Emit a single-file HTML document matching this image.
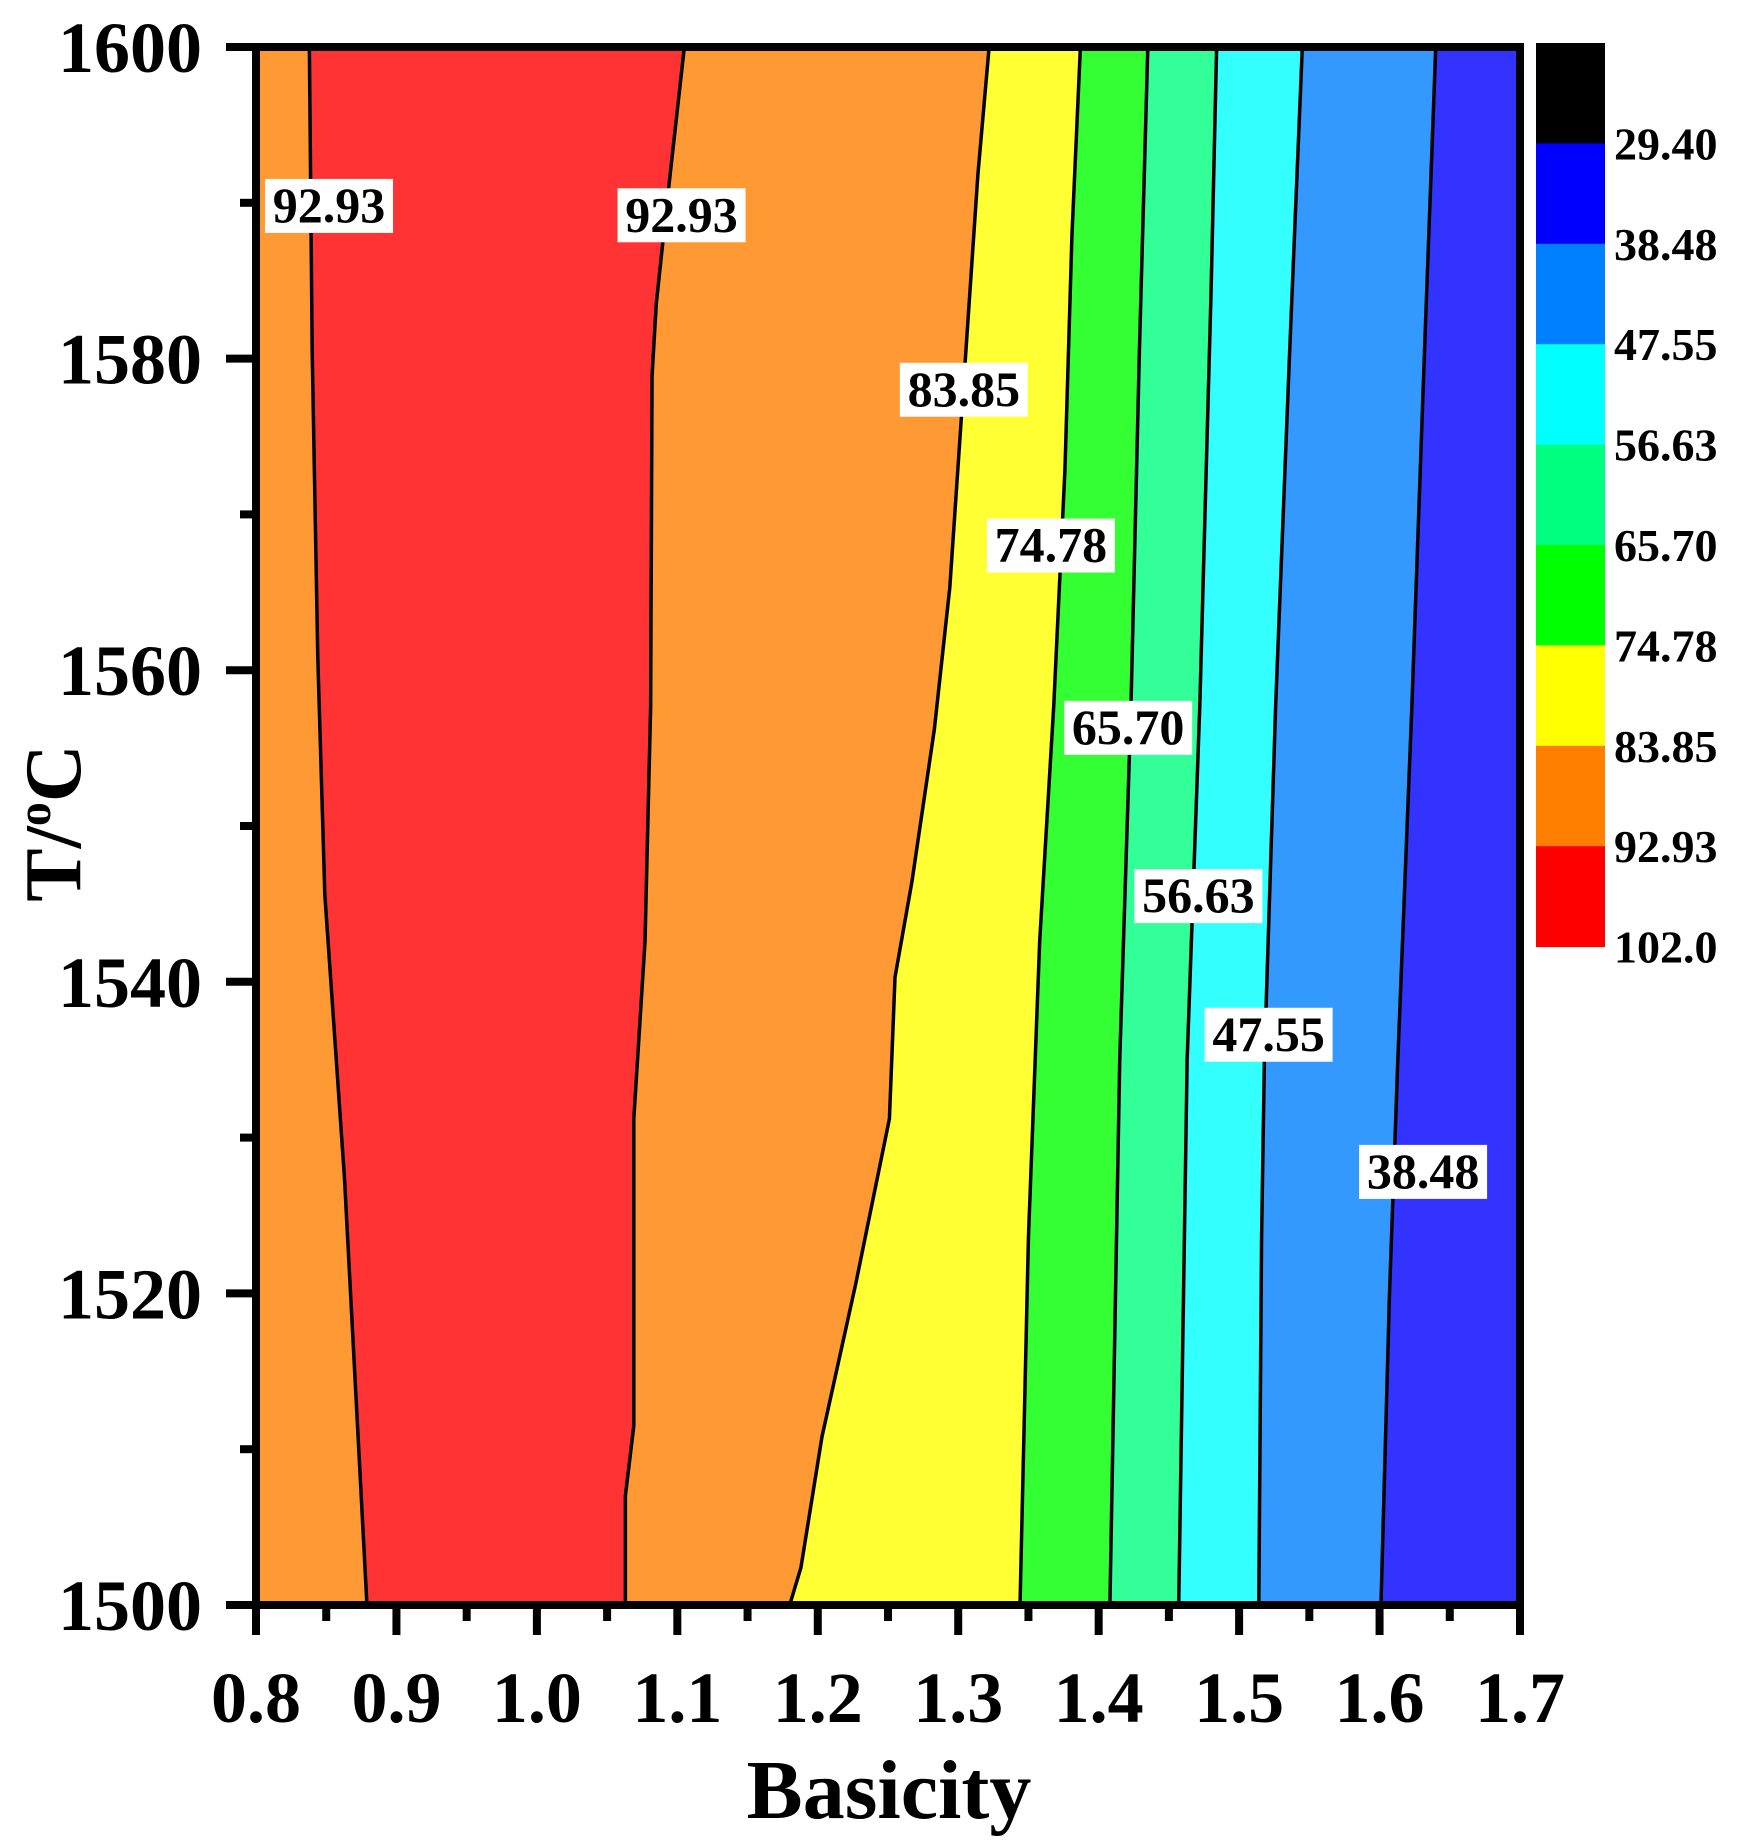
<!DOCTYPE html>
<html><head><meta charset="utf-8"><style>
html,body{margin:0;padding:0;background:#fff;}
svg{display:block;font-family:"Liberation Serif",serif;font-weight:bold;}
</style></head><body>
<svg id="chart" width="1740" height="1841" viewBox="0 0 1740 1841" xmlns="http://www.w3.org/2000/svg">
<g id="fills"></g>
<g id="lines"></g>
<g id="labels"></g>
<g id="axes"></g>
<g id="cbar"></g>
<text x="889" y="1818" font-size="84" text-anchor="middle">Basicity</text>
<text transform="translate(80,823) rotate(-90)" font-size="80" text-anchor="middle">T/<tspan font-size="48" dy="-30">o</tspan><tspan dy="30">C</tspan></text>
</svg>
<script>
const NS="http://www.w3.org/2000/svg";
const xTicks=[0.8,0.9,1.0,1.1,1.2,1.3,1.4,1.5,1.6,1.7];
const xTickLabels=["0.8","0.9","1.0","1.1","1.2","1.3","1.4","1.5","1.6","1.7"];
const yTicks=[1500,1520,1540,1560,1580,1600];
const yTickLabels=["1500","1520","1540","1560","1580","1600"];
const levelLabels=["29.40","38.48","47.55","56.63","65.70","74.78","83.85","92.93","102.0"];
const cbarColors=["#000000","#0000ff","#0080ff","#00ffff","#00ff80","#00ff00","#ffff00","#ff8000","#ff0000"];
const bandColors=["#ff9933","#ff3333","#ff9933","#ffff33","#33ff33","#33ff99","#33ffff","#3399ff","#3333ff"];
const lineT=[[1600,1580.5,1560.8,1545.6,1527.4,1500],[1600,1590.3,1583.5,1578.9,1557.7,1542.6,1531.2,1511.5,1507.0,1500],[1600,1591.8,1575.9,1565.3,1556.2,1546.4,1540.3,1531.2,1520.6,1510.8,1502.4,1500],[1600,1588.0,1572.9,1557.7,1542.6,1523.6,1500],[1600,1580.5,1557.7,1535.0,1500],[1600,1584.2,1557.7,1535.0,1500],[1600,1580.5,1557.7,1535.0,1523.6,1500],[1600,1580.5,1557.7,1535.0,1519.8,1500]];
const lineB=[[0.838,0.840,0.844,0.849,0.863,0.879],[1.105,1.093,1.085,1.082,1.081,1.077,1.069,1.069,1.063,1.063],[1.322,1.314,1.302,1.294,1.283,1.267,1.255,1.251,1.227,1.203,1.188,1.180],[1.387,1.381,1.376,1.368,1.358,1.350,1.344],[1.435,1.429,1.423,1.415,1.408],[1.484,1.480,1.472,1.463,1.457],[1.545,1.536,1.526,1.518,1.516,1.514],[1.640,1.632,1.623,1.613,1.607,1.601]];
const labelTexts=["92.93","92.93","83.85","74.78","65.70","56.63","47.55","38.48"];
const labelB=[0.852,1.103,1.304,1.366,1.421,1.471,1.521,1.631];
const labelT=[1589.8,1589.2,1578.0,1568.0,1556.3,1545.5,1536.6,1527.8];
const L=256,R=1520,T=47,B=1605;
const sx=v=>L+(v-0.8)/0.9*(R-L);
const sy=v=>B-(v-1500)/100*(B-T);
function mk(tag,attrs,parent){const e=document.createElementNS(NS,tag);for(const k in attrs)e.setAttribute(k,attrs[k]);parent.appendChild(e);return e;}
const fills=document.getElementById('fills');
let base=mk('rect',{x:L,y:T,width:R-L,height:B-T,fill:bandColors[0]},fills);


lineB.forEach((xs,i)=>{
  let pts=xs.map((b,j)=>sx(b)+','+sy(lineT[i][j]));
  pts.push(R+','+sy(1500));pts.push(R+','+sy(1600));
  const p=mk('polygon',{points:pts.join(' '),fill:bandColors[i+1]},fills);
  
  
});
const lines=document.getElementById('lines');
lineB.forEach((xs,i)=>{
  const pts=xs.map((b,j)=>sx(b)+','+sy(lineT[i][j])).join(' ');
  const pl=mk('polyline',{points:pts,fill:'none',stroke:'#000','stroke-width':3.5},lines);
  
  
});
const labels=document.getElementById('labels');
labelTexts.forEach((t,i)=>{
  const cx=sx(labelB[i]),cy=sy(labelT[i]);
  const r=mk('rect',{x:cx-64,y:cy-27,width:128,height:54,fill:'#fff'},labels);
  
  
  const tx=mk('text',{x:cx,y:cy+16,'font-size':50,'text-anchor':'middle'},labels);
  tx.textContent=t;
  
  
});
const axes=document.getElementById('axes');
const frame=mk('rect',{x:L,y:T,width:R-L,height:B-T,fill:'none',stroke:'#000','stroke-width':8},axes);


xTicks.forEach((v,i)=>{
  const x=sx(v);
  const tk=mk('line',{x1:x,y1:B,x2:x,y2:B+30,stroke:'#000','stroke-width':8},axes);
  
  
  if(i<xTicks.length-1){const mx=sx(v+0.05);
    const m=mk('line',{x1:mx,y1:B,x2:mx,y2:B+16,stroke:'#000','stroke-width':8},axes);
    
    }
  const t=mk('text',{x:x,y:1722,'font-size':72,'text-anchor':'middle'},axes);
  t.textContent=xTickLabels[i];
  
  
});
yTicks.forEach((v,i)=>{
  const y=sy(v);
  const tk=mk('line',{x1:L-30,y1:y,x2:L,y2:y,stroke:'#000','stroke-width':8},axes);
  
  
  if(i<yTicks.length-1){const my=sy(v+10);
    const m=mk('line',{x1:L-16,y1:my,x2:L,y2:my,stroke:'#000','stroke-width':8},axes);
    
    }
  const t=mk('text',{x:202,y:y+25,'font-size':72,'text-anchor':'end'},axes);
  t.textContent=yTickLabels[i];
  
  
});
const cbar=document.getElementById('cbar');
const cT=43,cH=100.4;
cbarColors.forEach((c,i)=>{
  const r=mk('rect',{x:1536,y:cT+i*cH,width:69,height:cH+0.5,fill:c},cbar);
  
  
  const t=mk('text',{x:1614,y:cT+(i+1)*cH+16,'font-size':46},cbar);
  t.textContent=levelLabels[i];
  
  
});
</script>
</body></html>
